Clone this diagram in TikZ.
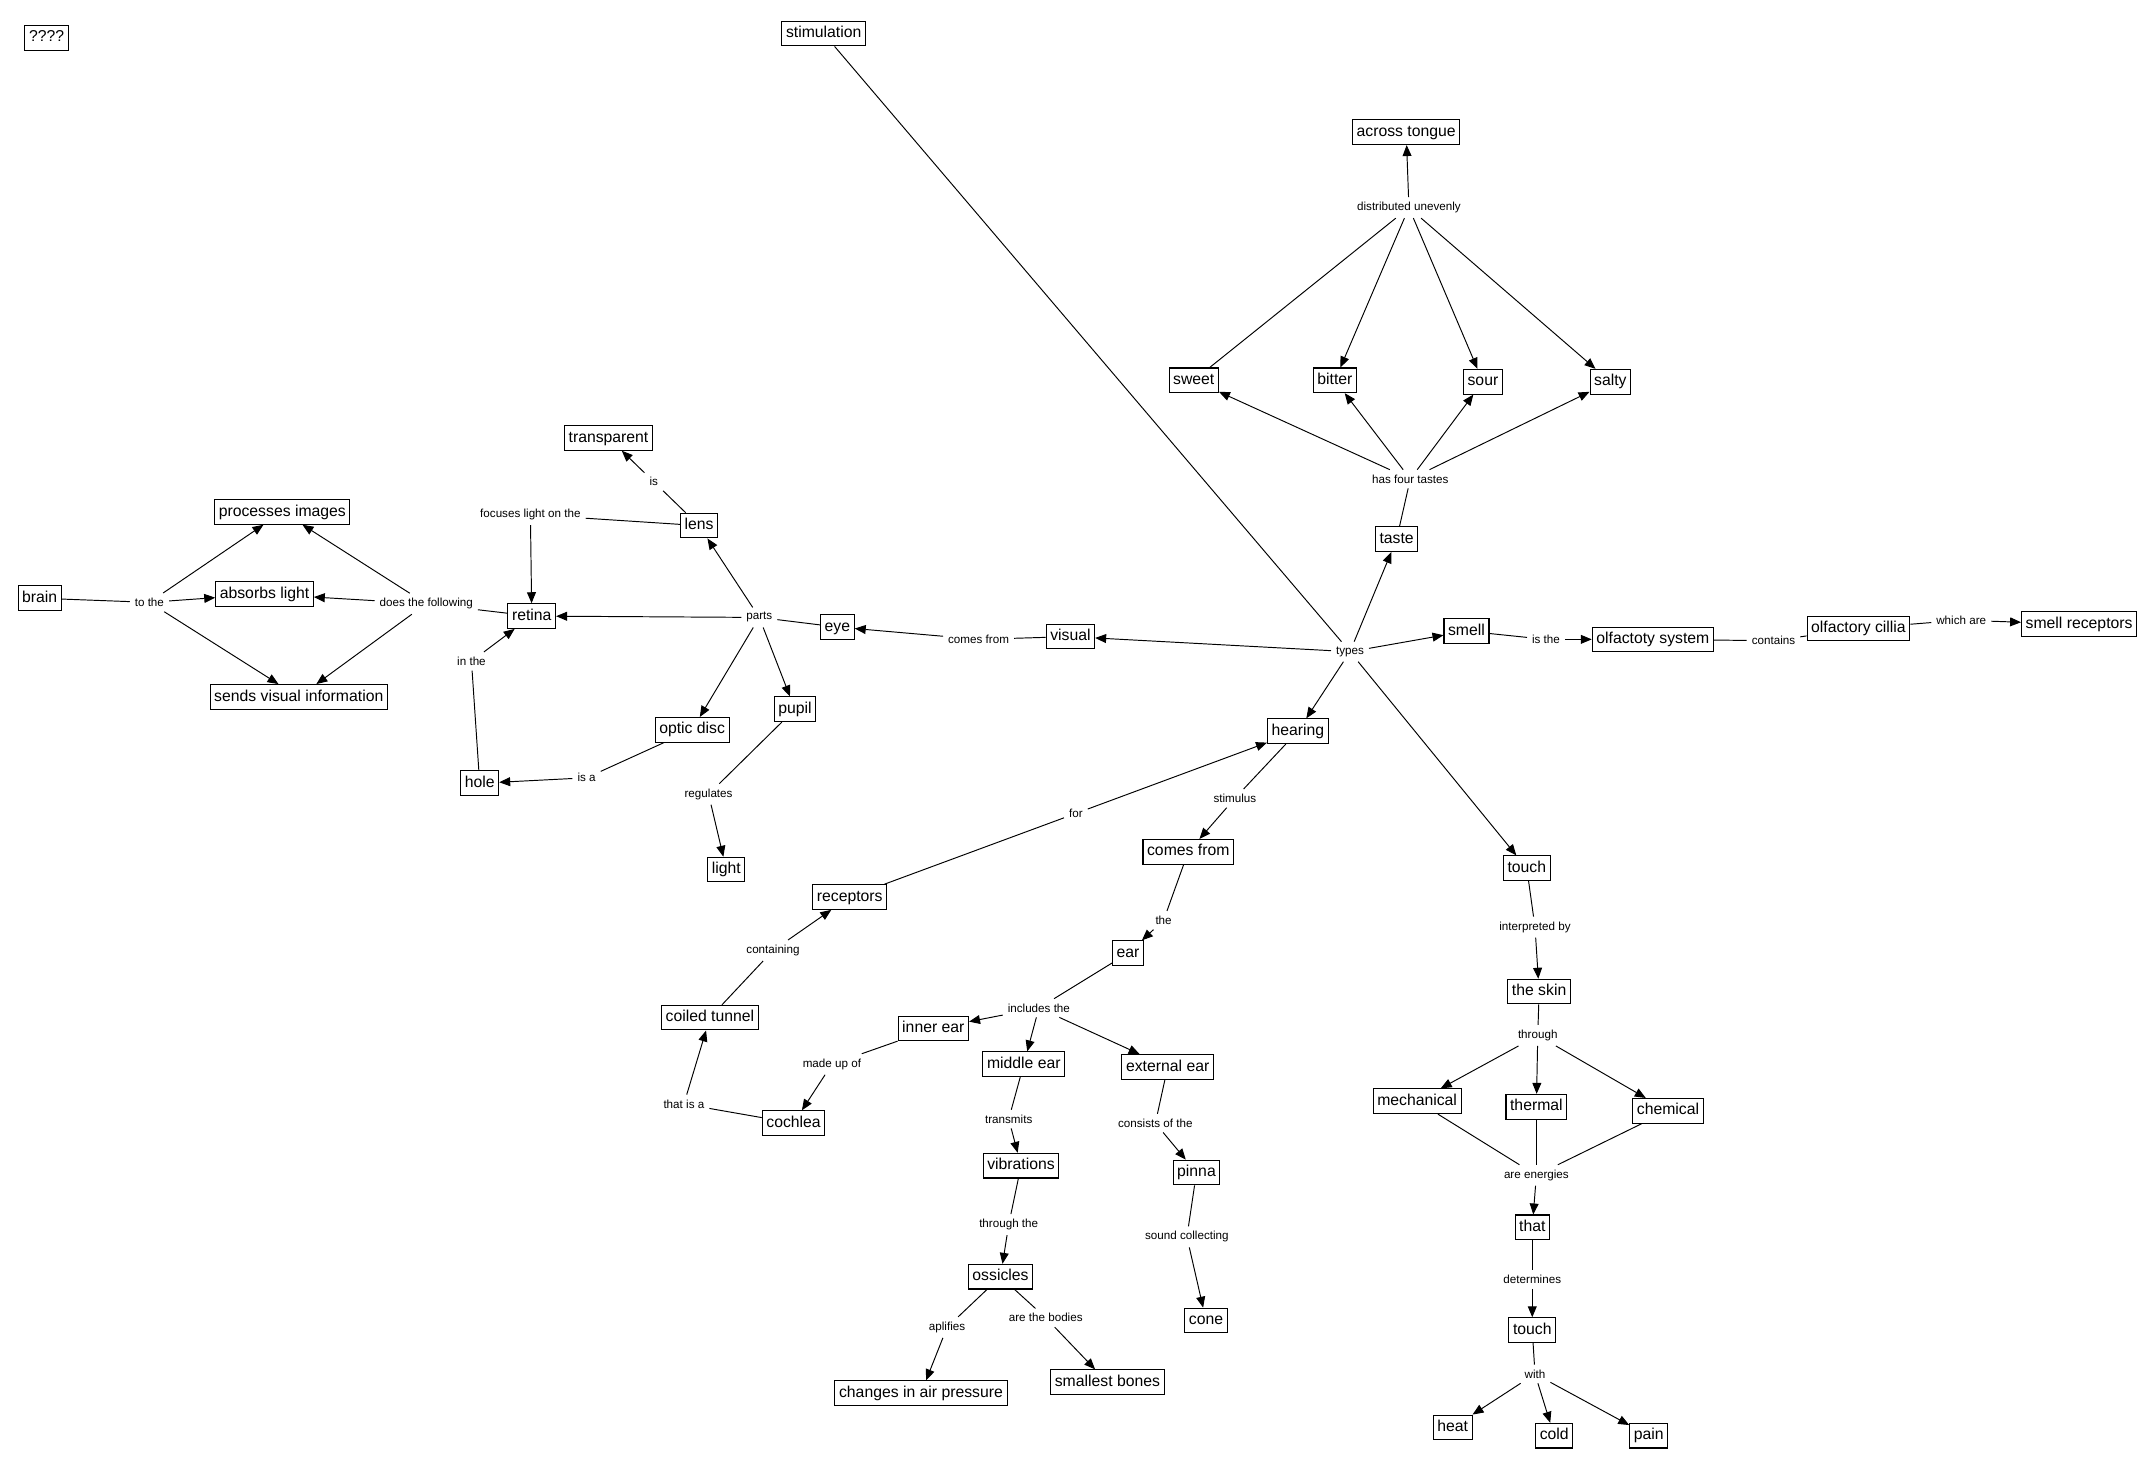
\documentclass[tikz,border=0pt]{standalone}
\usepackage{fontspec}
\setmainfont{Liberation Sans}
\usetikzlibrary{arrows.meta}
\begin{document}
\begin{tikzpicture}[x=1pt,y=-1pt,
  box/.style={draw,line width=0.75pt,fill=white,font=\fontsize{11.5}{13}\selectfont,inner xsep=3pt,inner ysep=2pt,minimum height=18pt,text height=8.5pt,text depth=2.5pt},
  lbl/.style={font=\fontsize{8.5}{10}\selectfont,inner sep=3.5pt},
  ln/.style={line width=0.7pt},
  arr/.style={line width=0.7pt,-{Triangle[length=8pt,width=6.5pt]}}]
\useasboundingbox (0,-1.5) rectangle (1568,1068.5);
% nodes
\node[box] (q) at (34,26) {????};
\node[box] (stim) at (601,23) {stimulation};
\node[box] (brain) at (29,435) {brain};
\node[lbl] (tothe) at (109,438) {to the};
\node[box] (proc) at (206,372) {processes images};
\node[box] (abs) at (193,432) {absorbs light};
\node[box] (send) at (218,507) {sends visual information};
\node[lbl] (dtf) at (311,439) {does the following};
\node[box] (retina) at (388,448) {retina};
\node[lbl] (focus) at (387,374) {focuses light on the};
\node[box] (lens) at (510,382) {lens};
\node[lbl] (is) at (477,350) {is};
\node[box] (transp) at (444,318) {transparent};
\node[lbl] (parts) at (554,449) {parts};
\node[box] (eye) at (611,456) {eye};
\node[lbl] (inthe) at (344,481) {in the};
\node[box] (hole) at (350,570) {hole};
\node[lbl] (isa) at (428,566) {is a};
\node[box] (optic) at (505,531) {optic disc};
\node[box] (pupil) at (580,516) {pupil};
\node[lbl] (reg) at (517,578) {regulates};
\node[box] (light) at (530,633) {light};
\node[lbl] (cfrom) at (714,465) {comes from};
\node[box] (visual) at (781,463) {visual};
\node[lbl] (types) at (985,474) {types};
\node[box] (taste) at (1019,392) {taste};
\node[lbl] (h4t) at (1029,348) {has four tastes};
\node[box] (sweet) at (871,276) {sweet};
\node[box] (bitter) at (974,276) {bitter};
\node[box] (sour) at (1082,277) {sour};
\node[box] (salty) at (1175,277) {salty};
\node[lbl] (dist) at (1028,150) {distributed unevenly};
\node[box] (across) at (1026,95) {across tongue};
\node[box] (smell) at (1070,459) {smell};
\node[lbl] (isthe) at (1128,465) {is the};
\node[box] (olfs) at (1206,465) {olfactoty system};
\node[lbl] (cont) at (1294,466) {contains};
\node[box] (cil) at (1356,457) {olfactory cillia};
\node[lbl] (which) at (1431,451) {which are};
\node[box] (srec) at (1517,454) {smell receptors};
\node[box] (hearing) at (947,532) {hearing};
\node[lbl] (stimu) at (901,581) {stimulus};
\node[box] (cf) at (867,620) {comes from};
\node[lbl] (for) at (785,592) {for};
\node[box] (rec) at (620,653) {receptors};
\node[lbl] (conting) at (564,692) {containing};
\node[box] (coil) at (518,741) {coiled tunnel};
\node[lbl] (the) at (849,670) {the};
\node[box] (ear) at (823,694) {ear};
\node[lbl] (incl) at (758,734) {includes the};
\node[box] (inner) at (681,749) {inner ear};
\node[box] (middle) at (747,775) {middle ear};
\node[box] (ext) at (852,777) {external ear};
\node[lbl] (madeup) at (607,775) {made up of};
\node[box] (coch) at (579,818) {cochlea};
\node[lbl] (thatisa) at (499,804) {that is a};
\node[lbl] (transm) at (736,815) {transmits};
\node[box] (vib) at (745,849) {vibrations};
\node[lbl] (throughthe) at (736,892) {through the};
\node[box] (oss) at (730,930) {ossicles};
\node[lbl] (apl) at (691,967) {aplifies};
\node[lbl] (bodies) at (763,960) {are the bodies};
\node[box] (changes) at (672,1015) {changes in air pressure};
\node[box] (smallest) at (808,1007) {smallest bones};
\node[lbl] (consists) at (843,818) {consists of the};
\node[box] (pinna) at (873,854) {pinna};
\node[lbl] (sound) at (866,901) {sound collecting};
\node[box] (cone) at (880,962) {cone};
\node[box] (touch) at (1114,632) {touch};
\node[lbl] (interp) at (1120,675) {interpreted by};
\node[box] (skin) at (1123,722) {the skin};
\node[lbl] (through) at (1122,754) {through};
\node[box] (mech) at (1034,802) {mechanical};
\node[box] (therm) at (1121,806) {thermal};
\node[box] (chem) at (1217,809) {chemical};
\node[lbl] (areen) at (1121,856) {are energies};
\node[box] (that) at (1118,894) {that};
\node[lbl] (determ) at (1118,932) {determines};
\node[box] (touchb) at (1118,969) {touch};
\node[lbl] (with) at (1120,1001) {with};
\node[box] (heat) at (1060,1040) {heat};
\node[box] (cold) at (1134,1046) {cold};
\node[box] (pain) at (1203,1046) {pain};
% connectors: vision
\draw[ln] (brain) -- (tothe);
\draw[arr] (tothe) -- (proc);
\draw[arr] (tothe) -- (abs);
\draw[arr] (tothe) -- (send);
\draw[ln] (retina) -- (dtf);
\draw[arr] (dtf) -- (proc);
\draw[arr] (dtf) -- (abs);
\draw[arr] (dtf) -- (send);
\draw[ln] (lens) -- (focus);
\draw[arr] (focus) -- (retina);
\draw[ln] (lens) -- (is);
\draw[arr] (is) -- (transp);
\draw[ln] (eye) -- (parts);
\draw[arr] (parts) -- (retina);
\draw[arr] (parts) -- (lens);
\draw[arr] (parts) -- (optic);
\draw[arr] (parts) -- (pupil);
\draw[ln] (hole) -- (inthe);
\draw[arr] (inthe) -- (retina);
\draw[ln] (optic) -- (isa);
\draw[arr] (isa) -- (hole);
\draw[ln] (pupil) -- (reg);
\draw[arr] (reg) -- (light);
\draw[ln] (visual) -- (cfrom);
\draw[arr] (cfrom) -- (eye);
% stimulation / types
\draw[ln] (stim) -- (types);
\draw[arr] (types) -- (visual);
\draw[arr] (types) -- (taste);
\draw[arr] (types) -- (smell);
\draw[arr] (types) -- (hearing);
\draw[arr] (types) -- (touch);
% taste
\draw[ln] (taste) -- (h4t);
\draw[arr] (h4t) -- (sweet);
\draw[arr] (h4t) -- (bitter);
\draw[arr] (h4t) -- (sour);
\draw[arr] (h4t) -- (salty);
\draw[ln] (sweet) -- (dist);
\draw[arr] (dist) -- (across);
\draw[arr] (dist) -- (bitter);
\draw[arr] (dist) -- (sour);
\draw[arr] (dist) -- (salty);
% smell
\draw[ln] (smell) -- (isthe);
\draw[arr] (isthe) -- (olfs);
\draw[ln] (olfs) -- (cont);
\draw[ln] (cont) -- (cil);
\draw[ln] (cil) -- (which);
\draw[arr] (which) -- (srec);
% hearing
\draw[ln] (hearing) -- (stimu);
\draw[arr] (stimu) -- (cf);
\draw[ln] (rec) -- (for);
\draw[arr] (for) -- (hearing);
\draw[ln] (coil) -- (conting);
\draw[arr] (conting) -- (rec);
\draw[ln] (cf) -- (the);
\draw[arr] (the) -- (ear);
\draw[ln] (ear) -- (incl);
\draw[arr] (incl) -- (inner);
\draw[arr] (incl) -- (middle);
\draw[arr] (incl) -- (ext);
\draw[ln] (inner) -- (madeup);
\draw[arr] (madeup) -- (coch);
\draw[ln] (coch) -- (thatisa);
\draw[arr] (thatisa) -- (coil);
\draw[ln] (middle) -- (transm);
\draw[arr] (transm) -- (vib);
\draw[ln] (vib) -- (throughthe);
\draw[arr] (throughthe) -- (oss);
\draw[ln] (oss) -- (apl);
\draw[arr] (apl) -- (changes);
\draw[ln] (oss) -- (bodies);
\draw[arr] (bodies) -- (smallest);
\draw[ln] (ext) -- (consists);
\draw[arr] (consists) -- (pinna);
\draw[ln] (pinna) -- (sound);
\draw[arr] (sound) -- (cone);
% touch
\draw[ln] (touch) -- (interp);
\draw[arr] (interp) -- (skin);
\draw[ln] (skin) -- (through);
\draw[arr] (through) -- (mech);
\draw[arr] (through) -- (therm);
\draw[arr] (through) -- (chem);
\draw[ln] (mech) -- (areen);
\draw[ln] (therm) -- (areen);
\draw[ln] (chem) -- (areen);
\draw[arr] (areen) -- (that);
\draw[ln] (that) -- (determ);
\draw[arr] (determ) -- (touchb);
\draw[ln] (touchb) -- (with);
\draw[arr] (with) -- (heat);
\draw[arr] (with) -- (cold);
\draw[arr] (with) -- (pain);
\end{tikzpicture}
\end{document}
